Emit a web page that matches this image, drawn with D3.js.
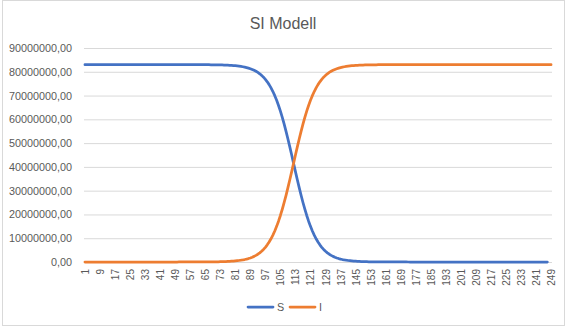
<!DOCTYPE html>
<html><head><meta charset="utf-8">
<script src="https://cdn.jsdelivr.net/npm/d3@7"></script>
<style>body{margin:0;background:#fff}svg{display:block}text{font-family:"Liberation Sans",Arial,sans-serif;fill:#595959}</style>
</head><body><svg id="c" width="566" height="327"></svg>
<script>
// Day numbers (categories) 1..249
const days = d3.range(1, 250);
// Series values in millions of people
const sMillions = [
83,83,83,83,83,83,83,83,83,83,83,83,83,83,83,83,83,83,83,83,83,83,83,83,83,
83,83,83,83,83,83,83,83,83,83,83,83,83,83,83,83,83,83,83,83,83,83,83,83,83,
82.997,82.996,82.996,82.995,82.994,82.993,82.992,82.990,82.989,82.987,82.984,
82.981,82.978,82.974,82.969,82.964,82.957,82.949,82.940,82.928,82.915,82.900,82.882,82.860,82.834,82.804,82.769,82.727,82.677,82.618,82.548,82.466,82.369,82.255,82.120,81.961,
81.774,81.553,81.294,80.990,80.633,80.214,79.724,79.153,78.487,77.714,76.819,75.787,74.601,73.245,71.70,69.96,68.01,65.83,63.43,60.81,57.97,54.94,51.74,48.41,44.98,41.50,
38.02,34.59,31.26,28.06,25.03,22.19,19.57,17.17,14.99,13.04,11.30,9.755,8.399,7.213,6.181,5.286,4.513,3.847,3.276,2.786,2.367,2.010,1.706,1.447,1.226,
1.039,0.880,0.745,0.631,0.534,0.452,0.382,0.323,0.273,0.231,0.196,0.166,0.140,0.118,0.100,0.085,0.072,0.060,0.051,0.043,0.036,0.031,0.026,0.022,0.019,
0.016,0.013,0.011,0.010,0.008,0.007,0.006,0.005,0.004,0.004,
0,0,0,0,0,0,0,0,0,0,0,0,0,0,0,0,0,0,0,0,0,0,0,0,0,
0,0,0,0,0,0,0,0,0,0,0,0,0,0,0,0,0,0,0,0,0,0,0,0,0,
0,0,0,0,0,0,0,0,0,0,0,0,0,0,0,0,0,0,0,0,0,0,0,0,0
];
const iMillions = [
0,0,0,0,0,0,0,0,0,0,0,0,0,0,0,0,0,0,0,0,0,0,0,0,0,
0,0,0,0,0,0,0,0,0,0,0,0,0,0,0,0,0,0,0,0,0,0,0,0,0,
0.003,0.004,0.004,0.005,0.006,0.007,0.008,0.010,0.011,0.013,0.016,
0.019,0.022,0.026,0.031,0.036,0.043,0.051,0.060,0.072,0.085,0.100,0.118,0.140,0.166,0.196,0.231,0.273,0.323,0.382,0.452,0.534,0.631,0.745,0.880,1.039,
1.226,1.447,1.706,2.010,2.367,2.786,3.276,3.847,4.513,5.286,6.181,7.213,8.399,9.755,11.30,13.04,14.99,17.17,19.57,22.19,25.03,28.06,31.26,34.59,38.02,41.50,
44.98,48.41,51.74,54.94,57.97,60.81,63.43,65.83,68.01,69.96,71.70,73.245,74.601,75.787,76.819,77.714,78.487,79.153,79.724,80.214,80.633,80.990,81.294,81.553,81.774,
81.961,82.120,82.255,82.369,82.466,82.548,82.618,82.677,82.727,82.769,82.804,82.834,82.860,82.882,82.900,82.915,82.928,82.940,82.949,82.957,82.964,82.969,82.974,82.978,82.981,
82.984,82.987,82.989,82.990,82.992,82.993,82.994,82.995,82.996,82.997,
83,83,83,83,83,83,83,83,83,83,83,83,83,83,83,83,83,83,83,83,83,83,83,83,83,
83,83,83,83,83,83,83,83,83,83,83,83,83,83,83,83,83,83,83,83,83,83,83,83,83,
83,83,83,83,83,83,83,83,83,83,83,83,83,83,83,83,83,83,83,83,83,83,83,83,83,
83,83
];
const yTicks = [0,10000000,20000000,30000000,40000000,50000000,60000000,70000000,80000000,90000000];
const yTickLabels = ["0,00","10000000,00","20000000,00","30000000,00","40000000,00","50000000,00","60000000,00","70000000,00","80000000,00","90000000,00"];
const xTickLabels = days.filter(d => (d - 1) % 8 === 0);
const seriesNames = ["S","I"];
const seriesColors = ["#4472C4","#ED7D31"];
const title = "SI Modell";

const svg = d3.select("#c");
svg.append("rect").attr("x",2.5).attr("y",0.5).attr("width",562).attr("height",325)
  .attr("fill","#fff").attr("stroke","#d9d9d9");

const x = d3.scalePoint().domain(days).range([84,552]).padding(0.5);
const y = d3.scaleLinear().domain([0,90000000]).range([262,48]);

// gridlines
svg.append("g").selectAll("line").data(yTicks).join("line")
  .attr("x1",84).attr("x2",552).attr("y1",d=>y(d)+0.5).attr("y2",d=>y(d)+0.5)
  .attr("stroke","#d9d9d9").attr("stroke-width",1);

// y axis labels
const yAxis = d3.axisLeft(y).tickValues(yTicks).tickSize(0).tickPadding(0)
  .tickFormat((d,i)=>yTickLabels[i]);
const gy = svg.append("g").attr("transform","translate(72,0)").call(yAxis);
gy.select(".domain").remove();
gy.selectAll("text").attr("font-size","10.8px").attr("font-family","Liberation Sans, Arial, sans-serif").attr("fill","#595959");

// x axis labels
const xAxis = d3.axisBottom(x).tickValues(xTickLabels).tickSize(0).tickPadding(0);
const gx = svg.append("g").attr("transform","translate(0,262)").call(xAxis);
gx.select(".domain").remove();
gx.selectAll("text").attr("font-size","10px").attr("font-family","Liberation Sans, Arial, sans-serif").attr("fill","#595959")
  .attr("text-anchor","end").attr("transform","rotate(-90)").attr("x",-7).attr("y",0).attr("dy","0.35em");

// lines
const line = d3.line().x((d,i)=>x(days[i])).y(d=>y(d*1e6));
[sMillions, iMillions].forEach((vals,k)=>{
  svg.append("path").datum(vals).attr("d",line).attr("fill","none")
    .attr("stroke",seriesColors[k]).attr("stroke-width",2.75).attr("stroke-linejoin","round").attr("stroke-linecap","round");
});

// title
svg.append("text").attr("x",283).attr("y",29).attr("text-anchor","middle")
  .attr("font-size","16px").text(title);

// legend
const lg = svg.append("g");
const legX = [248, 290];
seriesNames.forEach((n,k)=>{
  lg.append("line").attr("x1",legX[k]).attr("x2",legX[k]+25).attr("y1",307).attr("y2",307)
    .attr("stroke",seriesColors[k]).attr("stroke-width",2.75).attr("stroke-linecap","round");
  lg.append("text").attr("x",legX[k]+29).attr("y",311).attr("font-size","10.8px").text(n);
});
</script></body></html>
